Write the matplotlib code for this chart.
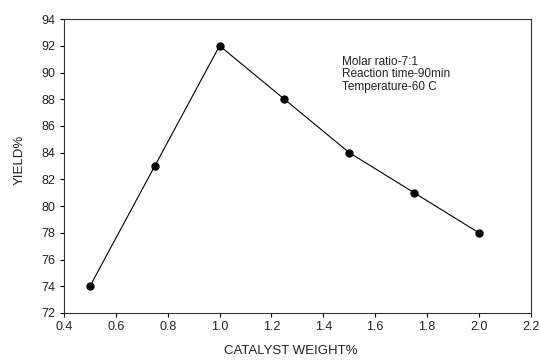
import matplotlib
matplotlib.use("Agg")
import matplotlib.pyplot as plt

plt.rcParams['font.family'] = ['Liberation Sans', 'DejaVu Sans']

catalyst_weight = [0.5, 0.75, 1.0, 1.25, 1.5, 1.75, 2.0]
yield_pct = [74, 83, 92, 88, 84, 81, 78]
x_ticks = [0.4, 0.6, 0.8, 1.0, 1.2, 1.4, 1.6, 1.8, 2.0, 2.2]
y_ticks = [72, 74, 76, 78, 80, 82, 84, 86, 88, 90, 92, 94]
conditions = "Molar ratio-7:1\nReaction time-90min\nTemperature-60 C"

fig = plt.figure(figsize=(5.4, 3.6), dpi=100)
ax = fig.add_axes([0.1185, 0.1306, 0.8645, 0.8164])

ax.plot(catalyst_weight, yield_pct, color='black', linewidth=0.8,
        marker='o', markersize=5, markerfacecolor='black', markeredgecolor='black')

ax.set_xlim(0.4, 2.2)
ax.set_ylim(72, 94)
ax.set_xticks(x_ticks)
ax.set_yticks(y_ticks)
ax.set_xticklabels([f"{v:.1f}" for v in x_ticks])
ax.set_yticklabels([str(v) for v in y_ticks])
ax.tick_params(direction='out', length=3, width=0.8, labelsize=9, pad=3,
               colors='black', labelcolor='#222222')

for s in ax.spines.values():
    s.set_linewidth(0.8)
    s.set_color('#333333')

ax.set_xlabel("CATALYST WEIGHT%", fontsize=9.5, color='#222222')
ax.xaxis.set_label_coords(0.485, -0.11)
ax.set_ylabel("YIELD%", fontsize=9.5, color='#222222')
ax.yaxis.set_label_coords(-0.082, 0.52)

ax.text(0.595, 0.875, conditions, transform=ax.transAxes, fontsize=8.5,
        va='top', ha='left', linespacing=1.05, color='#222222')

fig.savefig("out.png", dpi=100)
